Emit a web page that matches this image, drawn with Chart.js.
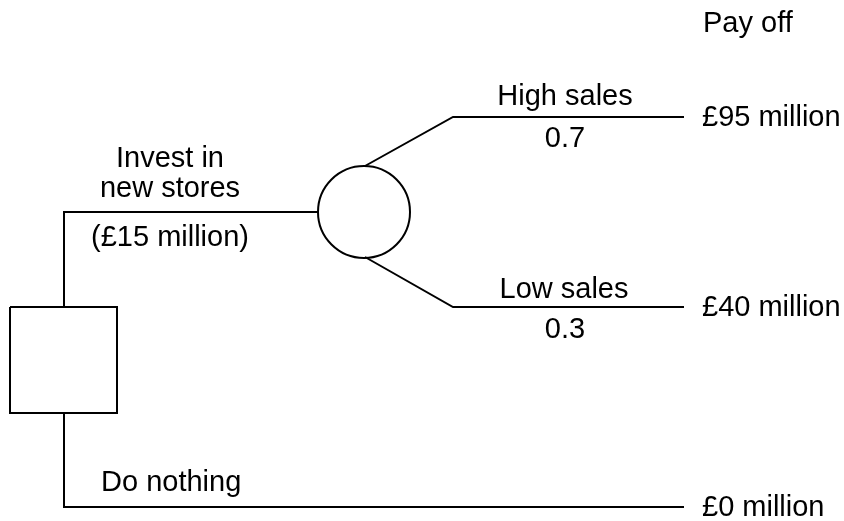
<!DOCTYPE html>
<html>
<head>
<meta charset="utf-8">
<script src="https://cdn.jsdelivr.net/npm/chart.js@4"></script>
<style>
  html, body { margin: 0; padding: 0; background: #fff; }
  #wrap { width: 844px; height: 521px; position: relative; }
</style>
</head>
<body>
<div id="wrap"><canvas id="tree"></canvas></div>
<script>
// diagram space = 844 x 521, y grows downwards
const decisionBox = [[10, 307], [117, 307], [117, 413], [10, 413], [10, 307]];
const investBranch = [[64, 307], [64, 212], [318, 212]];
const nothingBranch = [[64, 413], [64, 507], [684, 507]];
const highBranch = [[365, 166], [453, 117], [684, 117]];
const lowBranch = [[365, 257], [453, 307], [684, 307]];
const chanceNode = [[364, 212]];

const labelTexts = ["Pay off", "£95 million", "£40 million", "£0 million",
  "High sales", "0.7", "Low sales", "0.3",
  "Invest in", "new stores", "(£15 million)", "Do nothing"];
const labelX = [703, 702, 702, 702, 565, 565, 564, 565, 170, 170, 170, 101];
const labelY = [32, 126, 316, 516, 105, 147, 298, 338, 167, 197, 246, 491];
const labelAlign = ["left", "left", "left", "left", "center", "center", "center", "center",
  "center", "center", "center", "left"];

const toPts = (arr) => arr.map(([x, y]) => ({ x, y }));

function lineSet(arr) {
  return {
    data: toPts(arr),
    showLine: true,
    borderColor: "#000",
    borderWidth: 2,
    pointRadius: 0,
    fill: false,
    clip: false
  };
}

const labelPlugin = {
  id: "treeLabels",
  afterDatasetsDraw(chart) {
    const { ctx, scales } = chart;
    ctx.save();
    ctx.fillStyle = "#000";
    ctx.font = '29px "Liberation Sans", Arial, sans-serif';
    ctx.textBaseline = "alphabetic";
    labelTexts.forEach((t, i) => {
      ctx.textAlign = labelAlign[i];
      ctx.fillText(t, scales.x.getPixelForValue(labelX[i]), scales.y.getPixelForValue(labelY[i]));
    });
    ctx.restore();
  }
};

new Chart(document.getElementById("tree"), {
  type: "scatter",
  data: {
    datasets: [
      lineSet(investBranch),
      lineSet(nothingBranch),
      lineSet(highBranch),
      lineSet(lowBranch),
      lineSet(decisionBox),
      {
        data: toPts(chanceNode),
        pointRadius: 46,
        pointStyle: "circle",
        borderColor: "#000",
        borderWidth: 2,
        backgroundColor: "#fff",
        clip: false
      }
    ]
  },
  options: {
    responsive: true,
    maintainAspectRatio: false,
    animation: false,
    events: [],
    layout: { padding: 0, autoPadding: false },
    plugins: { legend: { display: false }, tooltip: { enabled: false } },
    scales: {
      x: { type: "linear", min: 0, max: 844, display: false },
      y: { type: "linear", min: 0, max: 521, reverse: true, display: false }
    }
  },
  plugins: [labelPlugin]
});
</script>
</body>
</html>
